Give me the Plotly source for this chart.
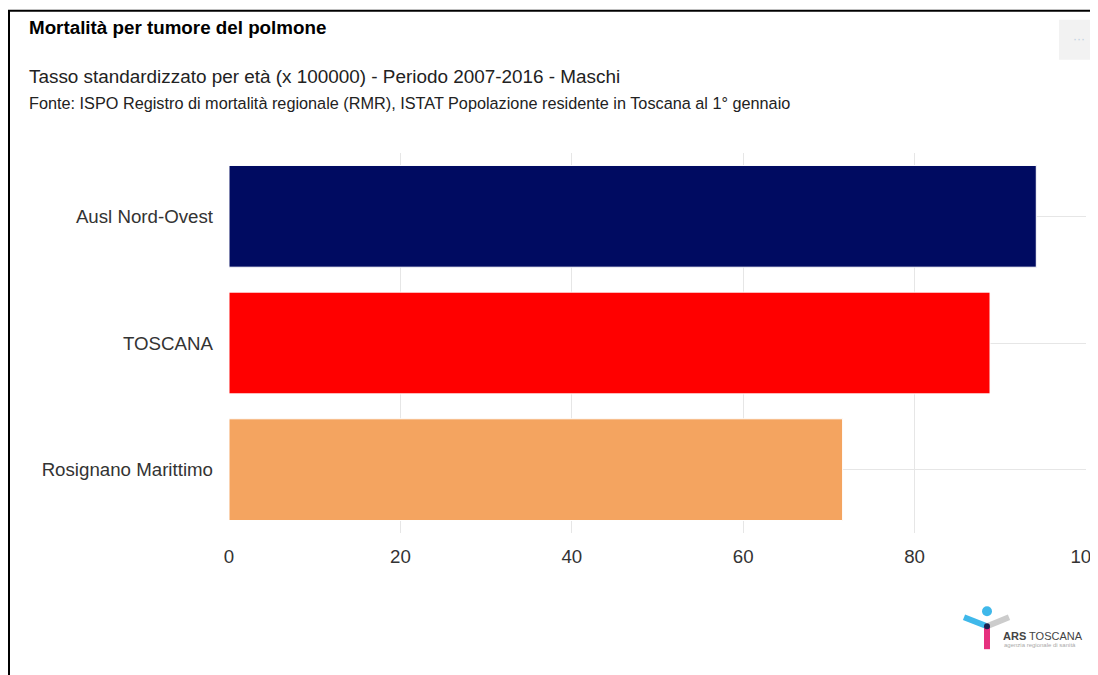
import plotly.graph_objects as go

categories = ["Ausl Nord-Ovest", "TOSCANA", "Rosignano Marittimo"]
values = [94.2, 88.8, 71.6]
colors = ["#000b61", "#ff0000", "#f4a460"]
x_ticks = [0, 20, 40, 60, 80, 100]

OFF = 8  # page body margin
W, H = 1098 - OFF, 675 - OFF
# plot area in page pixels
L, R, T, B = 229, 1086, 152.5, 533.5

def px(x):
    return (x - L) / (R - L)

def py(y):
    return (B - y) / (B - T)

fig = go.Figure()
fig.add_trace(go.Bar(
    y=categories, x=values, orientation="h",
    marker=dict(color=colors, line=dict(color="white", width=1)),
    hoverinfo="x+y",
))

shapes = []
# frame
shapes.append(dict(type="line", xref="paper", yref="paper", x0=px(8), x1=px(1110), y0=py(10), y1=py(10),
                   line=dict(color="black", width=2)))
shapes.append(dict(type="line", xref="paper", yref="paper", x0=px(9), x1=px(9), y0=py(9), y1=py(690),
                   line=dict(color="black", width=2)))
# menu button
shapes.append(dict(type="rect", xref="paper", yref="paper", x0=px(1059), x1=px(1110), y0=py(19), y1=py(59),
                   fillcolor="#f2f2f2", line=dict(width=0), layer="above"))
# logo
shapes.append(dict(type="line", xref="paper", yref="paper", x0=px(964), x1=px(987), y0=py(618), y1=py(627),
                   line=dict(color="#3fb8ea", width=6)))
shapes.append(dict(type="line", xref="paper", yref="paper", x0=px(987), x1=px(1009), y0=py(627), y1=py(618),
                   line=dict(color="#cccccc", width=6)))
shapes.append(dict(type="line", xref="paper", yref="paper", x0=px(987), x1=px(987), y0=py(627), y1=py(650),
                   line=dict(color="#e6307e", width=6)))
shapes.append(dict(type="circle", xref="paper", yref="paper", x0=px(982), x1=px(992), y0=py(607), y1=py(617),
                   fillcolor="#3fb8ea", line=dict(width=0)))
shapes.append(dict(type="circle", xref="paper", yref="paper", x0=px(984), x1=px(990), y0=py(624), y1=py(630),
                   fillcolor="#1a2050", line=dict(width=0)))

annotations = [
    dict(text="<b>Mortalità per tumore del polmone</b>", xref="paper", yref="paper", x=px(27), y=py(27),
         xanchor="left", yanchor="middle", showarrow=False, font=dict(size=18.8, color="#000000")),
    dict(text="Tasso standardizzato per età (x 100000) - Periodo 2007-2016 - Maschi", xref="paper", yref="paper",
         x=px(27), y=py(76), xanchor="left", yanchor="middle", showarrow=False, font=dict(size=18.9, color="#222222")),
    dict(text="Fonte: ISPO Registro di mortalità regionale (RMR), ISTAT Popolazione residente in Toscana al 1° gennaio",
         xref="paper", yref="paper", x=px(27), y=py(102), xanchor="left", yanchor="middle", showarrow=False,
         font=dict(size=16.25, color="#222222")),
    dict(text="···", xref="paper", yref="paper", x=px(1079), y=py(38), xanchor="center", yanchor="middle",
         showarrow=False, font=dict(size=12, color="#c0d0e0")),
    dict(text="<b>ARS</b> TOSCANA", xref="paper", yref="paper", x=px(1001), y=py(637), xanchor="left",
         yanchor="middle", showarrow=False, font=dict(size=11, color="#444444")),
    dict(text="agenzia regionale di sanità", xref="paper", yref="paper", x=px(1002), y=py(646), xanchor="left",
         yanchor="middle", showarrow=False, font=dict(size=6, color="#aaaaaa")),
]

fig.update_layout(
    width=W, height=H,
    margin=dict(l=L - OFF, r=W - (R - OFF), t=T - OFF, b=H - (B - OFF), pad=0, autoexpand=False),
    paper_bgcolor="white", plot_bgcolor="white",
    font=dict(family="Liberation Sans, Arial, sans-serif", color="#333333"),
    bargap=0.197,
    showlegend=False,
    xaxis=dict(range=[0, 100], tickvals=x_ticks, showgrid=True, gridcolor="#e6e6e6", gridwidth=1,
               zeroline=False, showline=False, ticks="", tickfont=dict(size=18.7, color="#333333"),
               ticklabelstandoff=10, ticklabeloverflow="allow", automargin=False, fixedrange=True),
    yaxis=dict(autorange="reversed", showgrid=True, gridcolor="#e6e6e6", gridwidth=1, ticks="",
               ticklabelstandoff=15, tickfont=dict(size=18.7, color="#333333"), showline=False,
               automargin=False, fixedrange=True),
    shapes=shapes,
    annotations=annotations,
)

fig.write_html("out.html")
